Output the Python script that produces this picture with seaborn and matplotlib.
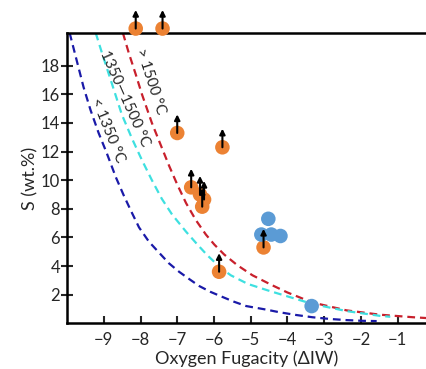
import matplotlib
matplotlib.use("Agg")
import matplotlib.pyplot as plt
import numpy as np
import pandas as pd
import seaborn as sns

# measured samples (orange = lower limits, blue = measured)
orange_x = [-8.13, -7.40, -7.00, -5.77, -6.62, -6.38, -6.27, -6.32, -5.86, -4.65]
orange_y = [20.6, 20.6, 13.3, 12.3, 9.5, 9.0, 8.65, 8.15, 3.6, 5.3]
blue_x = [-4.52, -4.71, -4.44, -4.19, -3.34]
blue_y = [7.3, 6.2, 6.2, 6.1, 1.2]

# SCSS curves
red_x = [-8.48, -8.32, -8.13, -7.96, -7.69, -7.44, -7.22, -7.00, -6.76, -6.49, -6.22, -5.99,
         -5.72, -5.36, -4.95, -4.45, -4.00, -3.32, -2.39, -1.49, -0.58, -0.20]
red_y = [20.3, 18.9, 17.4, 16.0, 14.0, 12.4, 11.0, 9.7, 8.4, 7.2, 6.2, 5.5,
         4.8, 4.05, 3.35, 2.7, 2.15, 1.45, 0.9, 0.6, 0.42, 0.36]
cyan_x = [-9.22, -9.05, -8.81, -8.51, -8.23, -7.96, -7.69, -7.42, -7.14, -6.76, -6.45, -6.18,
          -5.81, -5.54, -5.08, -4.54, -4.22, -3.32, -2.39, -1.49, -1.20]
cyan_y = [20.3, 18.9, 17.0, 14.6, 12.9, 11.4, 10.0, 8.7, 7.6, 6.4, 5.5, 4.75,
          3.85, 3.35, 2.75, 2.3, 2.05, 1.35, 0.85, 0.52, 0.45]
navy_x = [-9.93, -9.74, -9.55, -9.36, -9.14, -8.92, -8.67, -8.45, -8.23, -8.04, -7.77, -7.50,
          -7.23, -6.95, -6.68, -6.40, -6.10, -5.78, -5.45, -5.12, -4.57, -4.22, -3.77, -3.32,
          -2.85, -2.39, -1.95, -1.57]
navy_y = [20.3, 18.4, 16.5, 14.9, 13.3, 11.9, 10.2, 8.9, 7.7, 6.7, 5.7, 4.95,
          4.2, 3.6, 3.1, 2.6, 2.2, 1.85, 1.5, 1.2, 0.95, 0.77, 0.58, 0.42,
          0.3, 0.22, 0.17, 0.15]

curve_labels = ["> 1500 °C", "1350—1500 °C", "< 1350 °C"]

sns.set_style("ticks")
plt.rcParams['font.family'] = ['Lato', 'DejaVu Sans']

fig = plt.figure(figsize=(4.27, 3.69), dpi=100)
ax = fig.add_axes([0.157, 0.124, 0.843, 0.787])

for cx, cy, col in [(red_x, red_y, "#c8202c"), (cyan_x, cyan_y, "#3ee0e0"), (navy_x, navy_y, "#1a1aa8")]:
    line = sns.lineplot(x=cx, y=cy, sort=False, estimator=None, color=col, lw=1.6, ax=ax).lines[-1]
    line.set_dashes((3.5, 2.2))

pts = pd.DataFrame({
    "x": orange_x + blue_x,
    "y": orange_y + blue_y,
    "kind": ["lower"] * len(orange_x) + ["measured"] * len(blue_x),
})
sns.scatterplot(data=pts, x="x", y="y", hue="kind", palette={"lower": "#ec8233", "measured": "#5b9bd5"},
                s=110, edgecolor="none", legend=False, clip_on=False, zorder=4, ax=ax)

for x, y in zip(orange_x, orange_y):
    ax.annotate("", xy=(x, y + 1.3), xytext=(x, y), annotation_clip=False, zorder=5,
                arrowprops=dict(arrowstyle="-|>", color="black", lw=1.5, mutation_scale=8,
                                shrinkA=0, shrinkB=0))

ax.text(-7.74, 16.9, curve_labels[0], rotation=-72, ha="center", va="center", fontsize=11)
ax.text(-8.42, 15.7, curve_labels[1], rotation=-66, ha="center", va="center", fontsize=11)
ax.text(-8.9, 13.5, curve_labels[2], rotation=-68, ha="center", va="center", fontsize=11)

ax.set_xlim(-10, -0.2)
ax.set_ylim(0, 20.3)
ax.set_xticks(range(-9, 0))
ax.set_yticks(range(2, 20, 2))
ax.tick_params(axis="y", direction="inout", length=8, width=1.5, labelsize=12, pad=1)
ax.tick_params(axis="x", direction="in", length=5, width=1.5, labelsize=12, pad=6)
for side in ["left", "bottom", "top"]:
    ax.spines[side].set_linewidth(1.8)
    ax.spines[side].set_color("black")
ax.spines["right"].set_visible(False)
ax.set_xlabel("Oxygen Fugacity (ΔIW)", fontsize=13, labelpad=2)
ax.set_ylabel("S (wt.%)", fontsize=13, labelpad=2)

fig.savefig("out.png", dpi=100)
